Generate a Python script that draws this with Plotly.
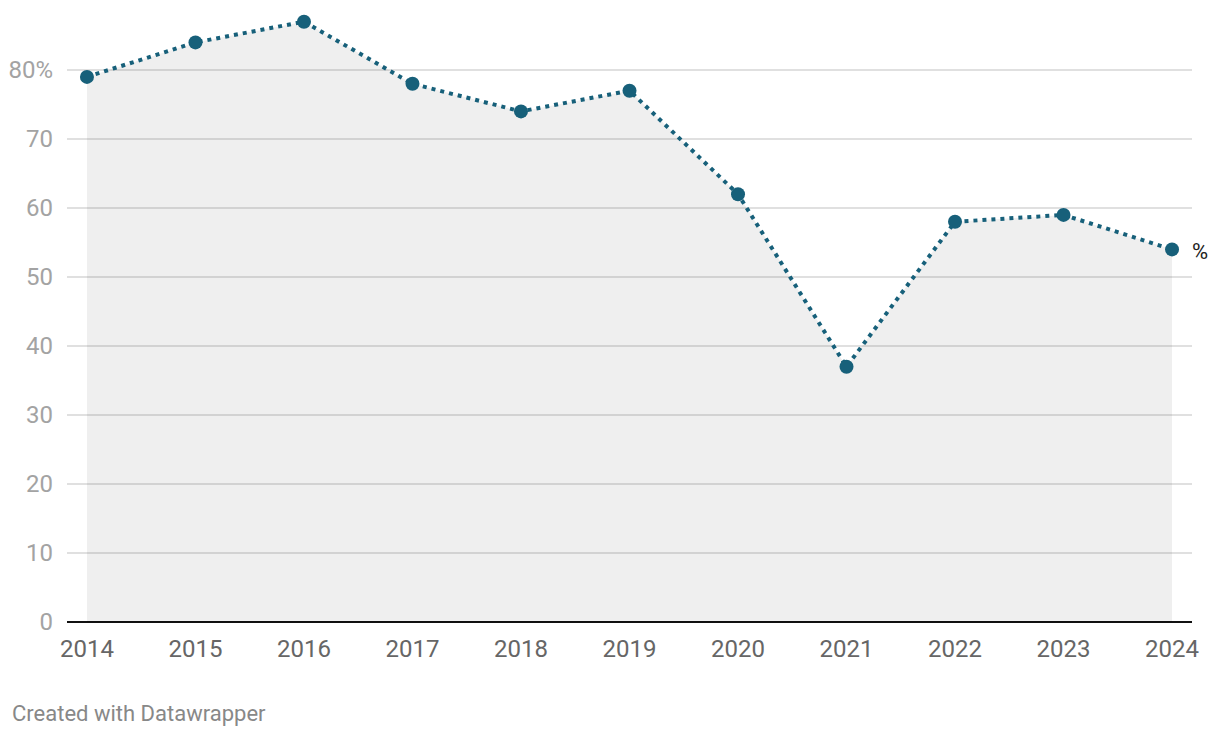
import plotly.graph_objects as go

years = [2014, 2015, 2016, 2017, 2018, 2019, 2020, 2021, 2022, 2023, 2024]
values = [79, 84, 87, 78, 74, 77, 62, 37, 58, 59, 54]
ytick_vals = [0, 10, 20, 30, 40, 50, 60, 70, 80]
ytick_text = ["0", "10", "20", "30", "40", "50", "60", "70", "80%"]

LINE = "#17607a"

fig = go.Figure()
fig.add_trace(go.Scatter(
    x=years, y=values, mode="lines", fill="tozeroy",
    fillcolor="rgba(0,0,0,0.063)", line=dict(width=0, color="rgba(0,0,0,0)"),
    hoverinfo="skip", showlegend=False,
))
fig.add_trace(go.Scatter(
    x=years, y=values, mode="lines+markers",
    line=dict(color=LINE, width=4, dash="4px,5px"),
    marker=dict(color=LINE, size=14),
    hoverinfo="x+y", showlegend=False,
))

fig.add_annotation(x=years[-1], y=values[-1], text="%", showarrow=False,
                   xanchor="left", xshift=18, yshift=-2,
                   font=dict(family="Roboto", size=22, color="#222222"))

fig.add_annotation(xref="paper", yref="paper", x=-0.0507, y=-0.148, text="Created with Datawrapper",
                   showarrow=False, xanchor="left", yanchor="middle",
                   font=dict(family="Roboto", size=22, color="#888888"))

fig.update_layout(
    width=1220, height=738,
    margin=dict(l=67, r=28, t=1, b=116),
    paper_bgcolor="white", plot_bgcolor="white",
    font=dict(family="Roboto"),
    xaxis=dict(range=[2013.816, 2024.184], tickvals=years, ticktext=[str(y) for y in years],
               showgrid=False, zeroline=False, showline=False, ticks="",
               tickfont=dict(size=24, color="#666666"), ticklabelstandoff=10, fixedrange=True),
    yaxis=dict(range=[0, 90], tickvals=ytick_vals, ticktext=ytick_text,
               showgrid=True, gridcolor="#e0e0e0", gridwidth=1.5,
               zeroline=True, zerolinecolor="#111111", zerolinewidth=2,
               showline=False, ticks="", tickfont=dict(size=24, color="#a3a3a3"),
               ticklabelstandoff=13, fixedrange=True),
)

fig.write_html("out.html")
